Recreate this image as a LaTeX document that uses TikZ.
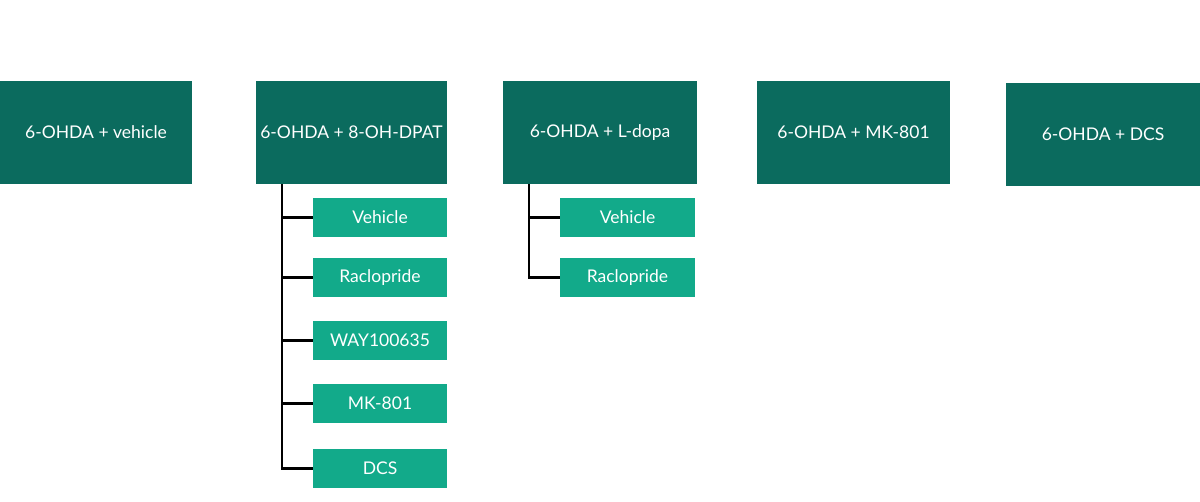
\documentclass[tikz,border=0pt]{standalone}
\usepackage{fontspec}
\setmainfont{Lato}
\definecolor{darkteal}{HTML}{0B6B5E}
\definecolor{lightteal}{HTML}{12AA8A}
\begin{document}
\begin{tikzpicture}[x=1pt,y=-1pt,
  mainbox/.style={fill=darkteal,text=white,font=\fontsize{17.5}{20}\selectfont,inner sep=0pt},
  subbox/.style={fill=lightteal,text=white,font=\fontsize{17.5}{20}\selectfont,inner sep=0pt},
  link/.style={line width=2.8pt,black}]
\useasboundingbox (0,0) rectangle (1200,502);
\fill[white] (0,0) rectangle (1200,502);
% main boxes
\node[mainbox,minimum width=192pt,minimum height=103pt] (m1) at (96,132.5) {6-OHDA + vehicle};
\node[mainbox,minimum width=191pt,minimum height=103pt] (m2) at (351.5,132.5) {6-OHDA + 8-OH-DPAT};
\node[mainbox,minimum width=194pt,minimum height=103pt] (m3) at (600,132.5) {6-OHDA + L-dopa};
\node[mainbox,minimum width=193pt,minimum height=103pt] (m4) at (853.5,132.5) {6-OHDA + MK-801};
\node[mainbox,minimum width=194pt,minimum height=103pt] (m5) at (1103,134.5) {6-OHDA + DCS};
% sub boxes column 2
\node[subbox,minimum width=134pt,minimum height=39pt] (a1) at (380,217.5) {Vehicle};
\node[subbox,minimum width=134pt,minimum height=39pt] (a2) at (380,277.5) {Raclopride};
\node[subbox,minimum width=134pt,minimum height=39pt] (a3) at (380,340.5) {WAY100635};
\node[subbox,minimum width=134pt,minimum height=39pt] (a4) at (380,403.5) {MK-801};
\node[subbox,minimum width=134pt,minimum height=39pt] (a5) at (380,468.5) {DCS};
% sub boxes column 3
\node[subbox,minimum width=135pt,minimum height=39pt] (b1) at (627.5,217.5) {Vehicle};
\node[subbox,minimum width=135pt,minimum height=39pt] (b2) at (627.5,277.5) {Raclopride};
% connectors
\coordinate (t2) at (282,0);
\coordinate (t3) at (529,0);
\draw[link] (m2.south -| t2) -- (a5.west -| t2) -- (a5.west);
\foreach \n in {a1,a2,a3,a4} \draw[link] (\n.west -| t2) -- (\n.west);
\draw[link] (m3.south -| t3) -- (b2.west -| t3) -- (b2.west);
\draw[link] (b1.west -| t3) -- (b1.west);
\end{tikzpicture}
\end{document}
